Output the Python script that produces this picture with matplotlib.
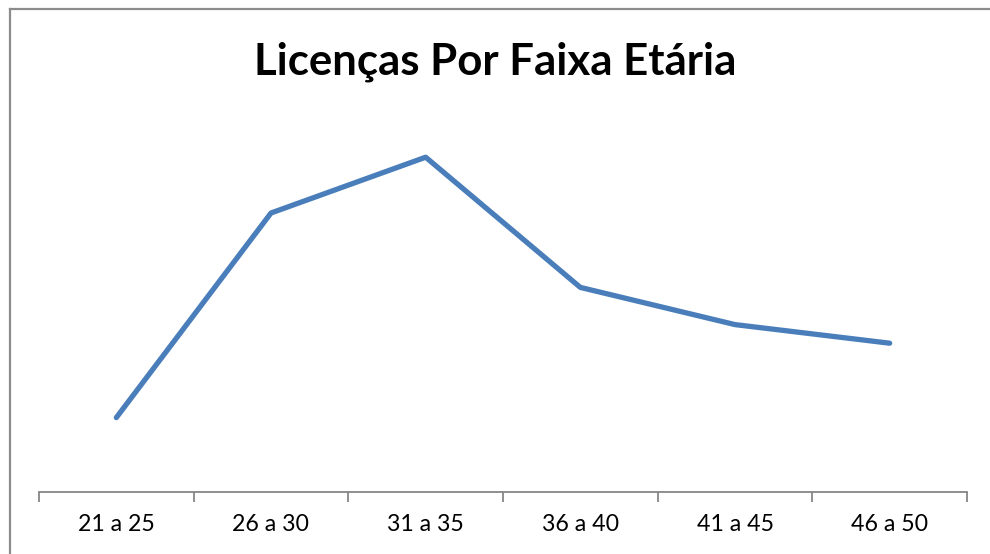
import matplotlib

matplotlib.use("Agg")
import matplotlib.pyplot as plt
import numpy as np
from matplotlib.lines import Line2D

categories = ["21 a 25", "26 a 30", "31 a 35", "36 a 40", "41 a 45", "46 a 50"]
licencas = [2.0, 7.5, 9.0, 5.5, 4.5, 4.0]

W, H = 990, 554
fig = plt.figure(figsize=(W / 100, H / 100), dpi=100)
fig.patch.set_facecolor("white")

# outer chart border: only the left and top edges are in the crop
bx, by = 9.5 / W, 1 - 8.5 / H
fig.lines.append(Line2D([bx, bx], [0, by], transform=fig.transFigure,
                        color="#8c8c8c", linewidth=1.6))
fig.lines.append(Line2D([bx, 1], [by, by], transform=fig.transFigure,
                        color="#8c8c8c", linewidth=1.6))

ax = fig.add_axes([39 / W, 62 / H, 928 / W, 372 / H])
x = np.arange(len(categories))
ax.plot(x, licencas, color="#4a7ebb", linewidth=3.8, solid_capstyle="round",
        solid_joinstyle="round")

ax.set_xlim(-0.5, len(categories) - 0.5)
ax.set_ylim(0, 10)
for side in ("left", "right", "top"):
    ax.spines[side].set_visible(False)
ax.spines["bottom"].set_color("#868686")
ax.spines["bottom"].set_linewidth(1.3)
ax.set_yticks([])

ax.set_xticks(x)
ax.set_xticklabels(categories, fontfamily="Lato", fontsize=16.7)
ax.set_xticks(np.arange(len(categories) + 1) - 0.5, minor=True)
ax.tick_params(axis="x", which="major", length=0, pad=16)
ax.tick_params(axis="x", which="minor", length=7, width=1.3, color="#868686", direction="out")

fig.text(0.5, 1 - 62 / H, "Licenças Por Faixa Etária", ha="center", va="center",
         fontfamily="Lato", fontweight="bold", fontsize=31.5)

fig.savefig("out.png", dpi=100)
